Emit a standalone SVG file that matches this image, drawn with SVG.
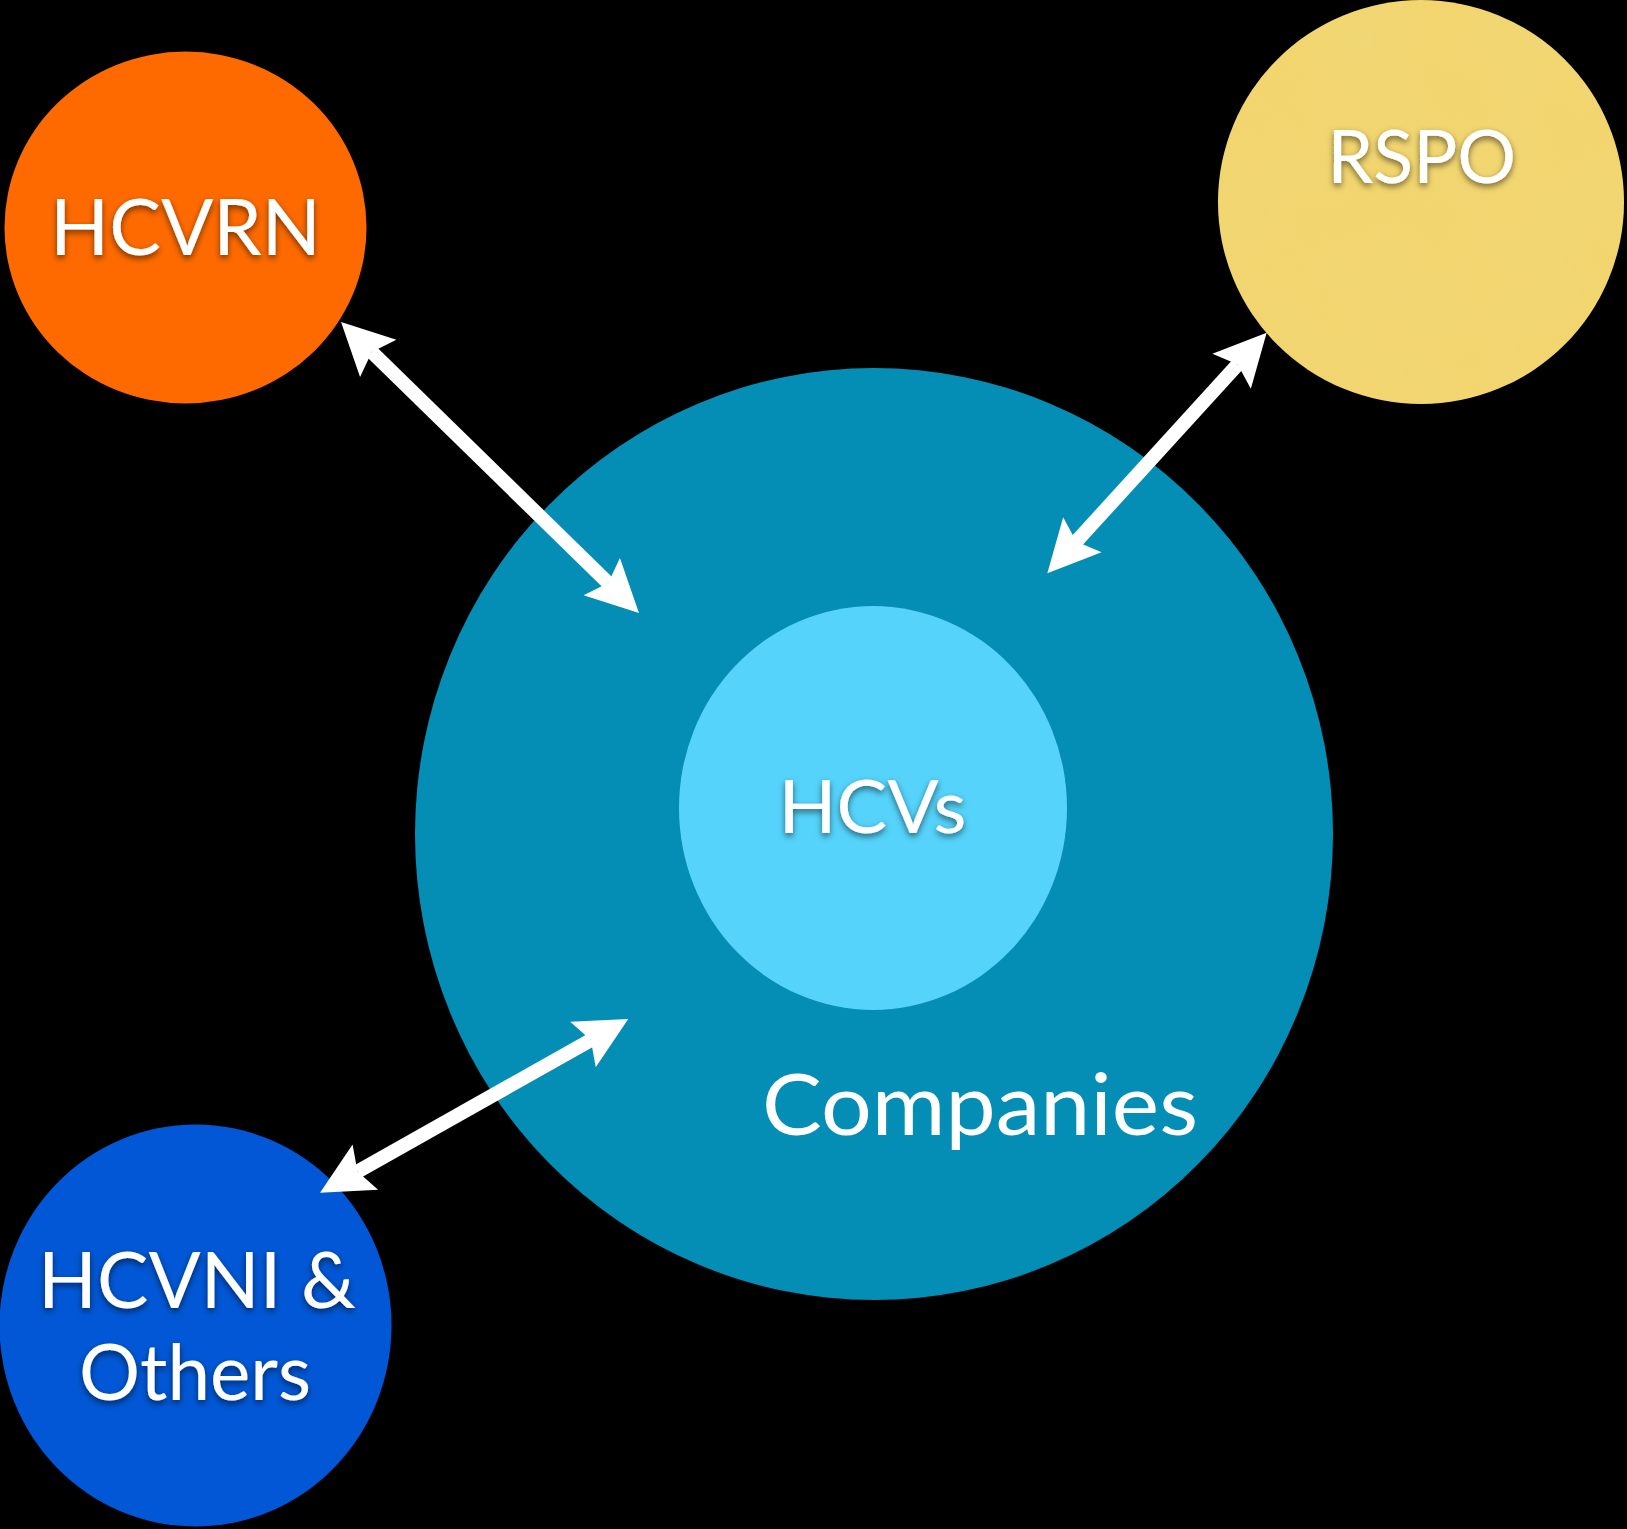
<svg xmlns="http://www.w3.org/2000/svg" width="1627" height="1529" viewBox="0 0 1627 1529">
  <style>
    .lbl { font-family: Lato, "Open Sans", "Liberation Sans", sans-serif; fill: #ffffff; text-anchor: middle; }
    .sh { filter: url(#shadow); }
    .conn { stroke: #ffffff; stroke-width: 14; fill: none; marker-start: url(#head); marker-end: url(#head); }
  </style>
  <defs>
    <filter id="shadow" x="-20%" y="-30%" width="140%" height="170%">
      <feDropShadow dx="0" dy="3" stdDeviation="3" flood-color="#000000" flood-opacity="0.55"/>
    </filter>
    <filter id="paper" x="0" y="0" width="100%" height="100%">
      <feTurbulence type="fractalNoise" baseFrequency="0.012" numOctaves="4" seed="7" result="n"/>
      <feColorMatrix in="n" type="matrix" values="0 0 0 0 0.86  0 0 0 0 0.70  0 0 0 0 0.22  0.9 0 0 0 -0.3" result="c"/>
      <feComposite in="c" in2="SourceGraphic" operator="in"/>
    </filter>
    <marker id="head" viewBox="-10 -27 54 54" refX="0" refY="0" markerWidth="54" markerHeight="54" markerUnits="userSpaceOnUse" orient="auto-start-reverse" overflow="visible">
      <path d="M43,0 L-9,-26 L0,0 L-9,26 Z" fill="#ffffff"/>
    </marker>
  </defs>
  <rect x="0" y="0" width="1627" height="1529" fill="#000000"/>

  <g id="companies">
    <ellipse cx="874" cy="834" rx="459" ry="466" fill="#048DB5"/>
    <text class="lbl" x="980" y="1135" font-size="86" textLength="436" lengthAdjust="spacingAndGlyphs">Companies</text>
  </g>

  <g id="hcvs">
    <ellipse cx="873" cy="808" rx="194" ry="202" fill="#55D3FB"/>
    <text class="lbl sh" x="872.5" y="833" font-size="73" textLength="188" lengthAdjust="spacingAndGlyphs">HCVs</text>
  </g>

  <g id="hcvrn">
    <ellipse cx="185.5" cy="227.5" rx="181" ry="176" fill="#FE6A00"/>
    <text class="lbl sh" x="185.5" y="255" font-size="78" textLength="271" lengthAdjust="spacingAndGlyphs">HCVRN</text>
  </g>

  <g id="rspo">
    <ellipse cx="1421" cy="202" rx="203" ry="202" fill="#F2D56E"/>
    <ellipse cx="1421" cy="202" rx="203" ry="202" fill="#F2D56E" filter="url(#paper)" opacity="0.7"/>
    <text class="lbl sh" x="1421.7" y="183" font-size="73" textLength="189" lengthAdjust="spacingAndGlyphs">RSPO</text>
  </g>

  <g id="hcvni">
    <ellipse cx="195.5" cy="1325.5" rx="196" ry="201" fill="#0157D5"/>
    <text class="lbl sh" x="197" y="1308" font-size="77" textLength="318" lengthAdjust="spacingAndGlyphs">HCVNI &amp;</text>
    <text class="lbl sh" x="195" y="1400" font-size="77" textLength="232" lengthAdjust="spacingAndGlyphs">Others</text>
  </g>

  <g id="connectors">
    <line class="conn" x1="371.8" y1="352" x2="608.2" y2="583"/>
    <line class="conn" x1="1237.7" y1="364.5" x2="1076.3" y2="541.5"/>
    <line class="conn" x1="590.8" y1="1040.1" x2="357.5" y2="1171.6"/>
  </g>
</svg>
